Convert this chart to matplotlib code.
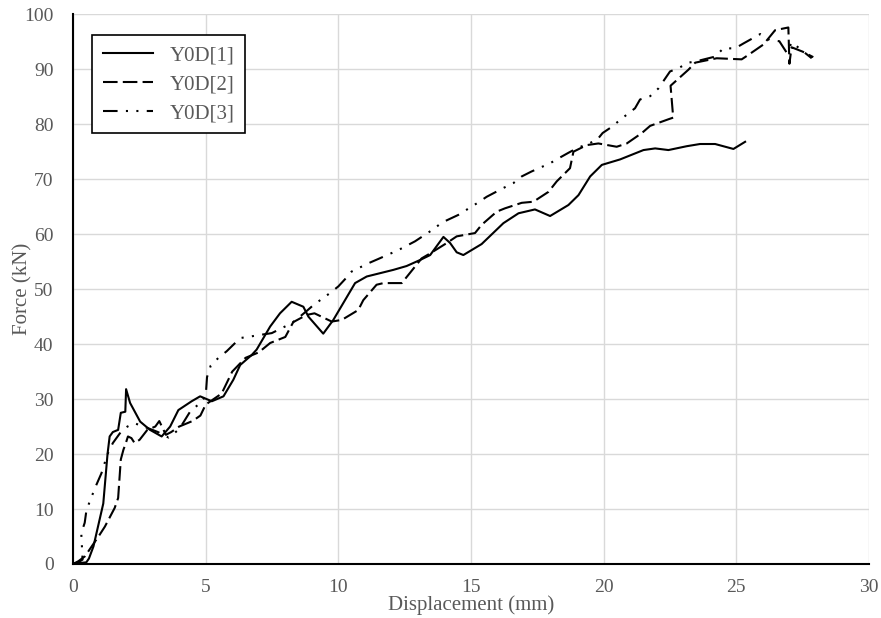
import matplotlib
matplotlib.use("Agg")
import matplotlib.pyplot as plt

# Y0D[1] - solid
disp_1 = [0, 0.3, 0.5, 0.6, 0.77, 1.14, 1.3, 1.38, 1.5, 1.7, 1.8, 1.97, 2.0,
          2.15, 2.53, 2.9, 3.34, 3.66, 3.97, 4.47, 4.79, 5.23, 5.67, 6.04,
          6.3, 6.73, 6.92, 7.43, 7.8, 8.24, 8.68, 8.87, 9.43, 9.81, 10.19,
          10.63, 11.07, 11.57, 12.07, 12.57, 13.08, 13.46, 13.96, 14.21,
          14.46, 14.71, 15.4, 16.22, 16.79, 17.41, 17.98, 18.67, 19.05,
          19.49, 19.93, 20.62, 21.5, 21.94, 22.44, 23.13, 23.63, 24.2,
          24.89, 25.33]
force_1 = [0, 0.2, 0.3, 1.0, 3.2, 11, 20, 23.2, 24, 24.4, 27.5, 27.7, 31.8,
           29.3, 25.9, 24.4, 23.2, 25, 28, 29.6, 30.5, 29.6, 30.5, 33.5,
           36.2, 38, 39, 43.2, 45.6, 47.7, 46.8, 45, 41.9, 44.4, 47.5,
           51.1, 52.3, 52.9, 53.5, 54.2, 55.3, 56.2, 59.5, 58.4,
           56.7, 56.2, 58.2, 62, 63.8, 64.5, 63.3, 65.3, 67.1,
           70.5, 72.6, 73.6, 75.3, 75.6, 75.3, 76, 76.4, 76.4,
           75.5, 76.8]

# Y0D[2] - dashed
disp_2 = [0, 0.2, 0.45, 1.0, 1.2, 1.57, 1.7, 1.8, 1.9, 1.97, 2.07, 2.2, 2.32,
          2.51, 2.8, 3.1, 3.25, 3.5, 3.7, 4.0, 4.5, 4.8, 5.0, 5.3, 5.6, 6.0,
          6.5, 7.0, 7.43, 8.0, 8.3, 8.8, 9.1, 9.75, 10.13, 10.75, 10.94,
          11.44, 11.7, 12.39, 12.64, 13.14, 13.46, 14.09, 14.46, 15.15,
          15.4, 15.97, 16.28, 16.91, 17.35, 17.92, 18.23, 18.73, 18.86,
          19.36, 19.8, 20.49, 20.87, 21.44, 21.75, 22.44, 22.62, 22.52,
          23.19, 23.45, 24.26, 25.2, 25.45, 26.02, 26.46, 26.96, 27.0,
          27.08, 27.5, 27.9]
force_2 = [0, 0.5, 1.4, 5.3, 6.8, 10.2, 12, 19, 20.8, 21.7, 23.2, 22.9, 22,
           22.6, 24.4, 25, 26, 23.5, 24, 25, 26, 27, 29, 30, 31, 35,
           37.5, 38.5, 40.2, 41.3, 44, 45.3, 45.6, 44.1, 44.4, 46.2, 48,
           50.8, 51.1, 51.1, 52.6, 55.6, 56.5, 58.4, 59.6, 60.2,
           61.7, 64.1, 64.7, 65.7, 65.9, 67.7, 69.6, 72, 75,
           76.2, 76.5, 75.9, 76.5, 78.4, 79.7, 80.9, 81.2, 87,
           89.9, 91.2, 92, 91.8, 92.6, 94.5, 97.1, 97.6, 91.0,
           94.0, 93.2, 92.2]

# Y0D[3] - dash-dot-dot
disp_3 = [0, 0.2, 0.36, 0.31, 0.44, 0.5, 0.63, 0.88, 1.07, 1.3, 1.5, 1.8,
          2.05, 2.32, 2.83, 3.2, 3.6, 4.0, 4.41, 4.72, 5.0, 5.05, 5.19,
          5.48, 5.79, 6.3, 6.71, 7.09, 7.49, 8.24, 8.5, 8.8, 9.06, 9.69,
          10.0, 10.25, 10.5, 11.13, 11.51, 12.26, 12.89, 13.58, 13.9,
          14.52, 15.25, 15.59, 16.22, 16.6, 16.91, 17.28, 17.98, 18.3,
          18.67, 18.98, 19.74, 19.96, 20.3, 20.62, 21.18, 21.37, 21.75,
          22.06, 22.5, 22.82, 23.19, 23.45, 24.2, 24.51, 24.95, 25.27,
          25.9, 26.25, 26.62, 26.9, 27.09, 27.84]
force_3 = [0, 0.3, 0.8, 5.6, 7.5, 9.6, 11.4, 14.4, 16.5, 20, 22, 24,
           25, 25.6, 24.7, 24, 23, 24.5, 27.7, 29, 30.5, 34, 36.1,
           37.5, 38.7, 41.1, 41.4, 41.7, 42, 43.8, 44.8, 46, 47.1, 49.3,
           50.5, 51.8, 53.2, 54.7, 55.5, 57.1, 58.7, 60.9, 62.1,
           63.5, 65.7, 66.8, 68.4, 69.3, 70.5, 71.4, 72.9, 73.8,
           74.8, 75.6, 77.1, 78.4, 79.5, 80.8, 82.9, 84.5, 85.1,
           86.5, 89.6, 90.2, 91.2, 91.4, 92.3, 93.8, 93.8, 94.7,
           96.4, 95.3, 95.1, 93.0, 94.9, 92.0]

series = [("Y0D[1]", disp_1, force_1, "-"),
          ("Y0D[2]", disp_2, force_2, (0, (7, 2.5))),
          ("Y0D[3]", disp_3, force_3, (0, (7, 4, 1, 4, 1, 4)))]

plt.rcParams["font.family"] = ["Liberation Serif", "DejaVu Serif"]
GREY = "#595959"

fig = plt.figure(figsize=(8.81, 6.18), dpi=100)
ax = fig.add_axes([0.0829, 0.0874, 0.9035, 0.8895])

for label, xs, ys, ls in series:
    ax.plot(xs, ys, color="black", linewidth=1.5, linestyle=ls, label=label)

ax.set_xlim(0, 30)
ax.set_ylim(0, 100)
ax.set_xticks(range(0, 31, 5))
ax.set_yticks(range(0, 101, 10))
ax.grid(color="#d9d9d9", linewidth=1.0)
ax.set_axisbelow(True)
ax.tick_params(length=0, labelsize=14, labelcolor=GREY)
ax.tick_params(axis="x", pad=11)
ax.tick_params(axis="y", pad=14)
for s in ("top", "right"):
    ax.spines[s].set_visible(False)
for s in ("left", "bottom"):
    ax.spines[s].set_linewidth(1.5)
    ax.spines[s].set_color("black")

ax.set_xlabel("Displacement (mm)", fontsize=15, color=GREY, labelpad=-1)
ax.set_ylabel("Force (kN)", fontsize=15, color=GREY)
ax.yaxis.set_label_coords(-0.051, 0.5)

leg = ax.legend(loc="upper left", bbox_to_anchor=(0.024, 0.962),
                borderaxespad=0, fontsize=15, handlelength=2.4,
                fancybox=False, edgecolor="black", framealpha=1,
                labelcolor=GREY, borderpad=0.5, labelspacing=0.45)
leg.get_frame().set_linewidth(1.2)

fig.savefig("out.png", dpi=100)
